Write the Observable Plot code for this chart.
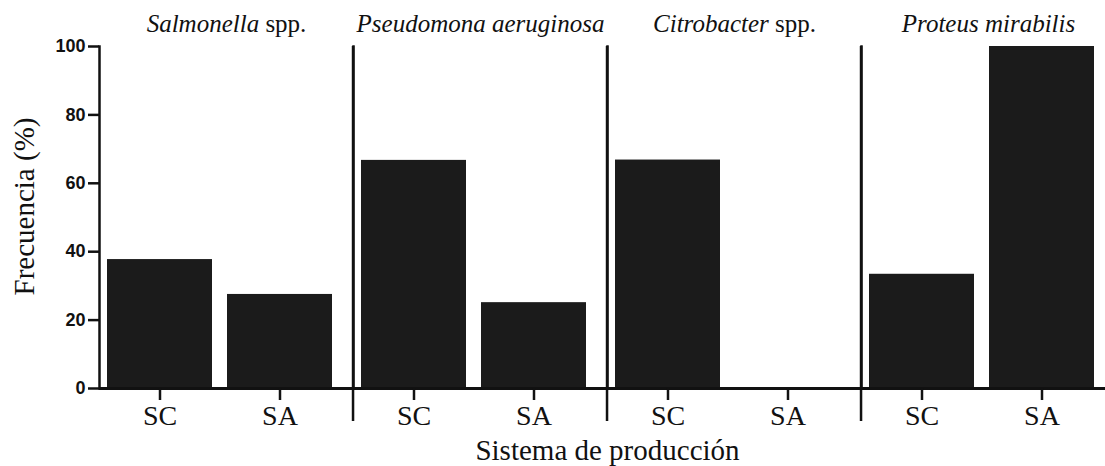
<!DOCTYPE html>
<html><head><meta charset="utf-8">
<script src="https://cdn.jsdelivr.net/npm/d3@7"></script>
<script src="https://cdn.jsdelivr.net/npm/@observablehq/plot@0.6"></script>
<style>html,body{margin:0;padding:0;background:#fff;overflow:hidden}</style>
</head><body><div id="chart"></div>
<script>
// ---- data ----
const species = ["Salmonella spp.", "Pseudomona aeruginosa", "Citrobacter spp.", "Proteus mirabilis"];
const italicParts = ["Salmonella", "Pseudomona aeruginosa", "Citrobacter", "Proteus mirabilis"];
const systems = ["SC", "SA"];
const scValues = [37.7, 66.7, 66.8, 33.4];
const saValues = [27.5, 25.1, 0, 100];
const yTicks = [0, 20, 40, 60, 80, 100];
const yLabel = "Frecuencia (%)";
const xLabel = "Sistema de producción";

const data = species.flatMap((s, i) => [
  {species: s, system: systems[0], value: scValues[i]},
  {species: s, system: systems[1], value: saValues[i]}
]);

// ---- layout ----
const W = 1105, H = 466, mL = 97, mT = 46, mB = 78;
const fxEnd = 1116.75;
const facetW = (fxEnd - mL) / species.length;
const ink = "#111";
const serif = "'Liberation Serif', 'Times New Roman', serif";
const sans = "'Liberation Sans', Arial, sans-serif";

const chart = Plot.plot({
  width: W, height: H,
  marginLeft: mL, marginRight: 0, marginTop: mT, marginBottom: mB,
  style: {background: "#fff", color: ink, fontFamily: serif},
  fx: {domain: species, range: [mL, fxEnd], padding: 0, axis: null, label: null},
  x: {domain: systems, paddingInner: 0.128, paddingOuter: 0.117, align: 0.268, axis: null, label: null},
  y: {domain: [0, 100], axis: null, label: null},
  marks: [
    Plot.barY(data, {fx: "species", x: "system", y: "value", fill: "#1b1b1b"}),
    Plot.frame({anchor: "left", stroke: ink, strokeWidth: 2.5}),
    Plot.ruleX(species.slice(1), {fx: d => d, x: null, dx: -facetW / 2, insetBottom: -33, stroke: ink, strokeWidth: 2.5}),
    Plot.ruleY([0], {stroke: ink, strokeWidth: 3}),
    Plot.axisX({anchor: "bottom", tickSize: 12, tickPadding: 5, fontSize: 28, fontFamily: serif, strokeWidth: 2.5, label: null}),
    Plot.axisY({ticks: yTicks, tickSize: 11, tickPadding: 3, fontSize: 18, fontWeight: "bold", fontFamily: sans, strokeWidth: 2.5, label: null}),
    Plot.text(species, {fx: d => d, text: d => d, frameAnchor: "top", textAnchor: "middle", lineAnchor: "bottom", dy: -15, fontSize: 25, fontFamily: serif}),
    Plot.text([yLabel], {facet: "super", text: d => d, frameAnchor: "left", textAnchor: "middle", lineAnchor: "middle", rotate: -90, dx: -75, dy: -11, fontSize: 29, fontFamily: serif}),
    Plot.text([xLabel], {facet: "super", text: d => d, frameAnchor: "bottom", textAnchor: "middle", lineAnchor: "bottom", dy: 71, fontSize: 29, fontFamily: serif})
  ]
});

// italicise the genus / species names in the panel titles
const NS = "http://www.w3.org/2000/svg";
chart.querySelectorAll("text").forEach(t => {
  const s = t.textContent;
  const i = species.indexOf(s);
  if (i < 0) return;
  const it = italicParts[i];
  const rest = s.slice(it.length);
  t.textContent = "";
  const span = document.createElementNS(NS, "tspan");
  span.setAttribute("font-style", "italic");
  span.textContent = it;
  t.appendChild(span);
  if (rest) t.appendChild(document.createTextNode(rest));
});

document.getElementById("chart").appendChild(chart);
</script>
</body></html>
